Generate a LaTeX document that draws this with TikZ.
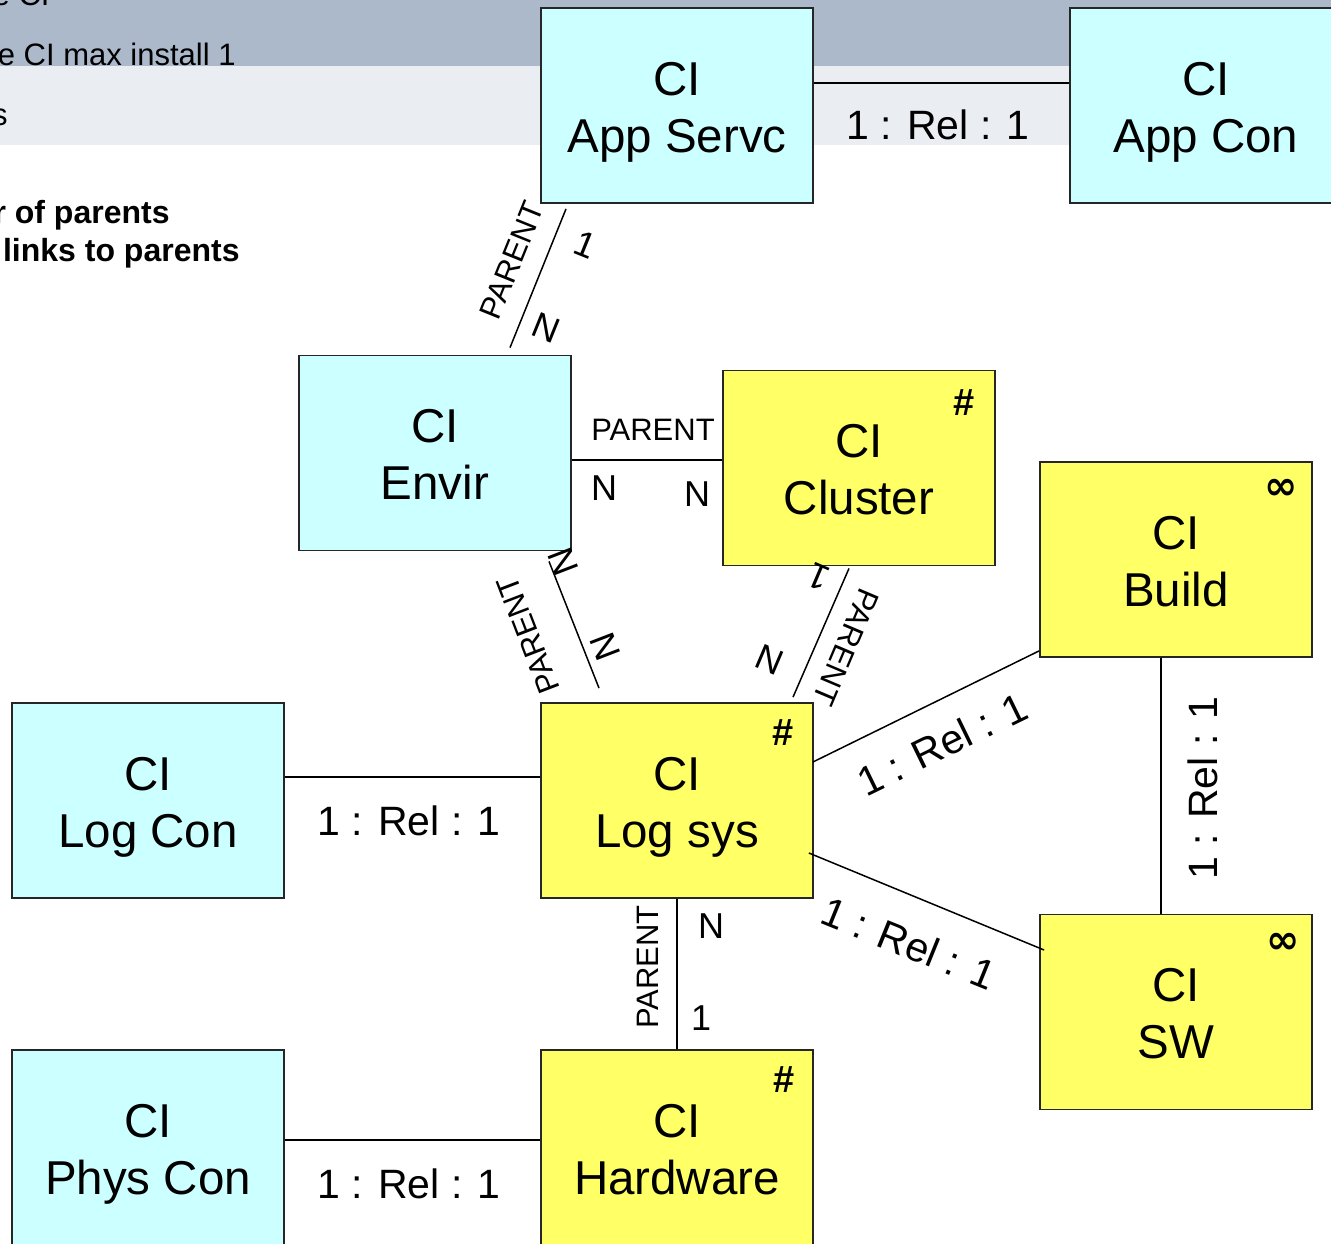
\documentclass[tikz,border=0pt]{standalone}
\usepackage{fontspec}
\setmainfont{Liberation Sans}
\newfontfamily\symfont{DejaVu Sans}
\usetikzlibrary{calc}
\definecolor{cicyan}{HTML}{CCFFFF}
\definecolor{ciyellow}{HTML}{FFFF66}
\definecolor{banddark}{HTML}{ABB9CA}
\definecolor{bandlight}{HTML}{EAEEF3}

\begin{document}
\begin{tikzpicture}[
    x=0.5pt, y=-0.5pt,
    node distance=264.5pt,
    block/.style={rectangle, draw=black!85, line width=0.9pt, align=center, text centered, minimum width=136pt, minimum height=97.5pt, inner sep=0pt, font=\fontsize{23.75}{28.5}\selectfont, text height=46.5pt, text depth=0pt},
    cyanblock/.style={block, fill=cicyan},
    yellowblock/.style={block, fill=ciyellow},
    line/.style={draw, line width=0.75pt},
    rel/.style={font=\fontsize{20.5}{25}\selectfont, inner sep=0pt},
    parent/.style={font=\fontsize{15.5}{18}\selectfont, inner sep=0pt},
    card/.style={font=\fontsize{18}{21}\selectfont, inner sep=0pt},
    tag/.style={font=\bfseries\fontsize{19}{22}\selectfont, inner sep=0pt},
    inftag/.style={font=\symfont\bfseries\fontsize{20}{24}\selectfont, inner sep=0pt},
    note/.style={font=\fontsize{15.5}{18}\selectfont, inner sep=0pt, anchor=base east},
    boldnote/.style={note, font=\bfseries\fontsize{16}{19}\selectfont}
  ]
    \useasboundingbox (0,0) rectangle (1331,1243);
    \clip (0,0) rectangle (1331,1243);

    % slide header behind the diagram
    \fill[banddark] (0,0) rectangle (1331,66);
    \fill[bandlight] (0,66) rectangle (1331,145);
    \node[note] (hdr1) at (50,5) {e CI};
    \node[note] (hdr2) at (236,65) {e CI max install 1};
    \node[note] (hdr3) at (8,125) {s};
    \node[boldnote] (hint1) at (170,223) {r of parents};
    \node[boldnote] (hint2) at (240,261) {links to parents};

    \node [yellowblock] at (677,800.5) (logsys) {CI\\Log sys};
    \node [cyanblock, left of=logsys] (logcon) {CI\\Log Con};
    \node [yellowblock, below of=logsys, yshift=91pt] (hardware) {CI\\Hardware};
    \node [cyanblock, left of=hardware] (physcon) {CI\\Phys Con};
    \node [cyanblock, above of=logsys, xshift=-121pt, yshift=-90.75pt] (envir) {CI\\Envir};
    \node [cyanblock, above of=logsys, yshift=83pt] (appservc) {CI\\App Servc};
    \node [cyanblock, right of=appservc] (appcon) {CI\\App Con};
    \node [yellowblock, right of=envir, xshift=-52.5pt, yshift=-7.5pt] (cluster) {CI\\Cluster};
    \node [yellowblock, right of=logsys, xshift=-15pt, yshift=120.5pt] (build) {CI\\Build};
    \node [yellowblock, below of=build, yshift=38.25pt] (sw) {CI\\SW};

    \node [tag] (cluster-tag) at ($(cluster.north east)+(-32,33)$) {\#};
    \node [tag] (logsys-tag) at ($(logsys.north east)+(-31,30)$) {\#};
    \node [tag] (hardware-tag) at ($(hardware.north east)+(-30,30)$) {\#};
    \node [inftag] (build-tag) at ($(build.north east)+(-32,28)$) {∞};
    \node [inftag] (sw-tag) at ($(sw.north east)+(-30,30)$) {∞};

    \path [line] ($(appservc.east)+(0,-22.5)$) -- ($(appcon.west)+(0,-22.5)$);
    \path [line] ($(appservc.south)+(-111,5)$) -- ($(envir.north)+(75,-7)$);
    \path [line] ($(envir.east)+(0,7)$) -- ($(cluster.west)+(0,-8)$);
    \path [line] ($(envir.south)+(114,10)$) -- ($(logsys.north)+(-78,-14)$);
    \path [line] ($(cluster.south)+(-10,2)$) -- ($(logsys.north)+(116,-5)$);
    \path [line] ($(logcon.east)+(0,-23.5)$) -- ($(logsys.west)+(0,-23.5)$);
    \path [line] ($(logsys.east)+(-1,-38.5)$) -- ($(build.south west)+(0,-7)$);
    \path [line] ($(logsys.east)+(-5,52.5)$) -- ($(sw.west)+(5,-62)$);
    \path [line] ($(build.south)+(-15,0)$) -- ($(sw.north)+(-15,0)$);
    \path [line] (logsys) -- (hardware);
    \path [line] ($(physcon.east)+(0,-7.5)$) -- ($(hardware.west)+(0,-7.5)$);

    \node [rel] (rel-app) at (938,125) {1 : Rel : 1};
    \node [parent, rotate=68] (par-app) at (512,260) {PARENT};
    \node [card, rotate=-22] (one-app) at (585,245) {1};
    \node [card, rotate=-22] (n-app) at (546,328) {N};
    \node [parent] (par-clu) at (653,430) {PARENT};
    \node [card] (n-env-clu) at (604,488) {N};
    \node [card] (n-clu-env) at (697,494) {N};
    \node [parent, rotate=111] (par-env) at (528,635) {PARENT};
    \node [card, rotate=111] (n-env) at (563,562) {N};
    \node [card, rotate=111] (n-log-env) at (605,647) {N};
    \node [parent, rotate=-113] (par-clu-log) at (846,647) {PARENT};
    \node [card, rotate=157] (one-clu) at (818,577) {1};
    \node [card, rotate=157] (n-log-clu) at (770,660) {N};
    \node [rel] (rel-log) at (409,821) {1 : Rel : 1};
    \node [rel, rotate=26] (rel-build) at (942,744) {1 : Rel : 1};
    \node [rel, rotate=-22] (rel-sw) at (909,943) {1 : Rel : 1};
    \node [rel, rotate=90] (rel-bsw) at (1203,788) {1 : Rel : 1};
    \node [parent, rotate=90] (par-hw) at (648,967) {PARENT};
    \node [card] (n-hw) at (711,926) {N};
    \node [card] (one-hw) at (701,1018) {1};
    \node [rel] (rel-phys) at (409,1184) {1 : Rel : 1};
  \end{tikzpicture}
\end{document}
